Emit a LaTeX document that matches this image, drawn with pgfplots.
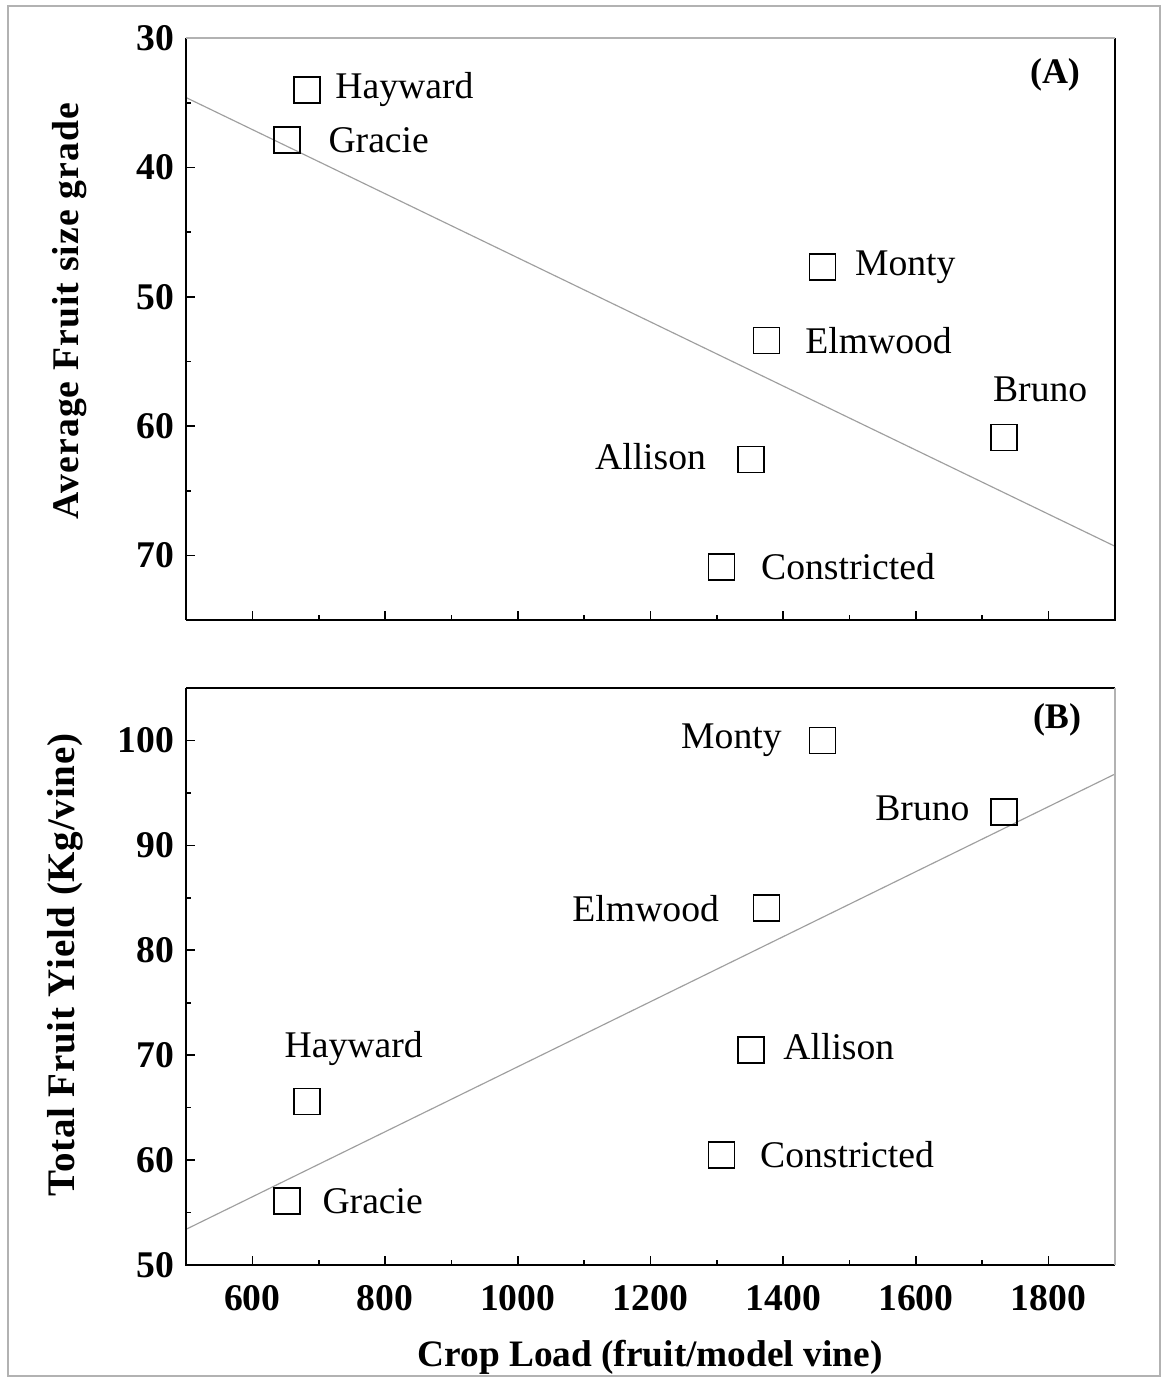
\documentclass[border=0pt]{standalone}
\usepackage{fontspec}
\setmainfont{Liberation Serif}
\usepackage{pgfplots}
\pgfplotsset{compat=1.18}

\pgfplotsset{
  panel/.style={
    scale only axis, width=278.7pt,
    xmin=500, xmax=1900,
    axis line style={draw=none},
    tick align=inside, xtick pos=left, ytick pos=left,
    xtick={600,800,...,1800}, minor x tick num=1,
    minor y tick num=1,
    major tick length=2.8pt, minor tick length=1.5pt,
    tick style={black, line width=0.5pt},
    /pgf/number format/assume math mode=true,
    /pgf/number format/1000 sep={},
    ticklabel style={font=\bfseries\fontsize{11.3}{13}\selectfont},
    clip=false,
  },
  vmark/.style={only marks, mark=square, mark size=3.9pt,
    mark options={black, line width=0.5pt, fill=white}},
  fitline/.style={gray!75, line width=0.35pt},
}
\tikzset{lab/.style={inner sep=0pt, font=\fontsize{11.3}{13}\selectfont}}

\begin{document}
\begin{tikzpicture}
\useasboundingbox (0pt,0pt) rectangle (348.6pt,413.4pt);
\draw[gray!60, line width=0.4pt] (2.4pt,0.6pt) rectangle (348pt,411.6pt);

% (A) fruit size grade against crop load
\begin{axis}[panel, name=pa,
  at={(55.8pt,227.4pt)}, anchor=south west, height=174.6pt,
  ymin=30, ymax=75, y dir=reverse, ytick={30,40,...,70},
  xticklabels={}]
  \addplot[fitline] coordinates {(500,34.6) (1900,69.3)};
  \addplot[vmark] coordinates {
    (682,34.0) (652,37.9) (1459,47.7) (1375,53.4)
    (1733,60.9) (1351,62.6) (1307,70.9)};
  \node[lab, anchor=west, xshift=8.4pt]  at (axis cs:682,34.0) {Hayward};
  \node[lab, anchor=west, xshift=12.3pt] at (axis cs:652,37.9) {Gracie};
  \node[lab, anchor=west, xshift=9.6pt]  at (axis cs:1459,47.7) {Monty};
  \node[lab, anchor=west, xshift=11.4pt] at (axis cs:1375,53.4) {Elmwood};
  \node[lab, anchor=center, xshift=10.8pt, yshift=14.4pt] at (axis cs:1733,60.9) {Bruno};
  \node[lab, anchor=east, xshift=-13.2pt, yshift=0.9pt] at (axis cs:1351,62.6) {Allison};
  \node[lab, anchor=west, xshift=11.7pt] at (axis cs:1307,70.9) {Constricted};
\end{axis}
\draw[black, line width=0.8pt] (pa.north west) -- (pa.south west);
\draw[black, line width=0.6pt] (pa.south west) -- (pa.south east) -- (pa.north east);
\draw[gray!60, line width=0.4pt] (pa.north west) -- (pa.north east);

% (B) total fruit yield against crop load
\begin{axis}[panel, name=pb,
  at={(55.8pt,33.9pt)}, anchor=south west, height=173.1pt,
  ymin=50, ymax=105, ytick={50,60,...,100},
  xticklabel style={yshift=-2.5pt}]
  \addplot[fitline] coordinates {(500,53.4) (1900,96.8)};
  \addplot[vmark] coordinates {
    (1459,100.0) (1733,93.2) (1375,84.0) (1351,70.5)
    (682,65.6) (1307,60.5) (652,56.1)};
  \node[lab, anchor=east, xshift=-12pt]   at (axis cs:1459,100.0) {Monty};
  \node[lab, anchor=east, xshift=-10.2pt, yshift=0.9pt] at (axis cs:1733,93.2) {Bruno};
  \node[lab, anchor=east, xshift=-14.1pt] at (axis cs:1375,84.0) {Elmwood};
  \node[lab, anchor=west, xshift=9.6pt, yshift=0.9pt] at (axis cs:1351,70.5) {Allison};
  \node[lab, anchor=center, xshift=14.1pt, yshift=15.9pt] at (axis cs:682,65.6) {Hayward};
  \node[lab, anchor=west, xshift=11.4pt] at (axis cs:1307,60.5) {Constricted};
  \node[lab, anchor=west, xshift=10.5pt] at (axis cs:652,56.1) {Gracie};
\end{axis}
\draw[black, line width=0.8pt] (pb.north west) -- (pb.south west) -- (pb.south east);
\draw[black, line width=0.6pt] (pb.north west) -- (pb.north east);
\draw[gray!60, line width=0.4pt] (pb.north east) -- (pb.south east);

% titles
\node[font=\bfseries\fontsize{11.3}{13}\selectfont\addfontfeature{LetterSpace=3}, rotate=90] at (21pt,320.1pt) {Average Fruit size grade};
\node[font=\bfseries\fontsize{11.7}{13}\selectfont\addfontfeature{LetterSpace=2}, rotate=90] at (19.5pt,123.9pt) {Total Fruit Yield (Kg/vine)};
\node[font=\bfseries\fontsize{11.2}{13}\selectfont] at (195pt,6.3pt) {Crop Load (fruit/model vine)};
\node[font=\bfseries\fontsize{10.8}{13}\selectfont] at (316.5pt,390.9pt) {(A)};
\node[font=\bfseries\fontsize{10.8}{13}\selectfont] at (317.1pt,197.4pt) {(B)};
\end{tikzpicture}
\end{document}
